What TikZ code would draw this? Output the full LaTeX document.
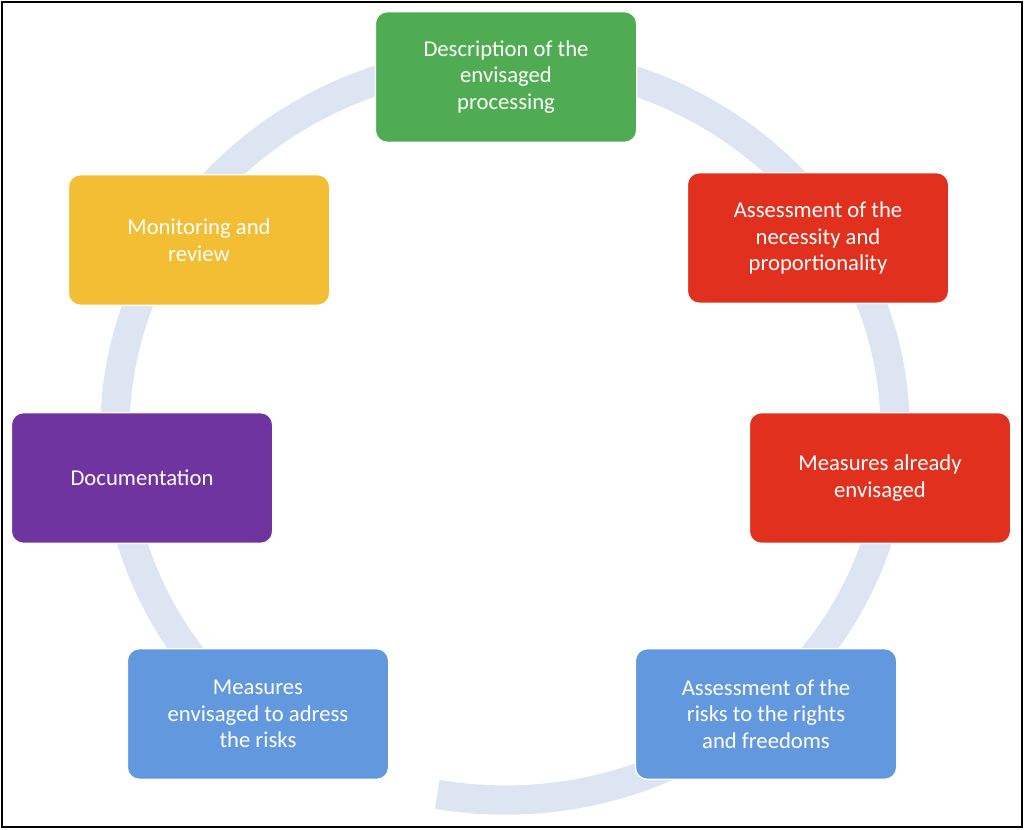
\documentclass[tikz,border=0pt]{standalone}
\usepackage{fontspec}
\setmainfont{Carlito}
\usetikzlibrary{arrows.meta}
\definecolor{cgreen}{RGB}{80,172,82}
\definecolor{cred}{RGB}{226,48,30}
\definecolor{cblue}{RGB}{98,152,222}
\definecolor{cpurple}{RGB}{112,52,160}
\definecolor{cyellow}{RGB}{244,190,52}
\definecolor{cring}{RGB}{222,229,242}
\tikzset{box/.style={draw=white,line width=1pt,rounded corners=9pt,text=white,align=center,font=\fontsize{17}{20}\selectfont,minimum width=196pt,minimum height=98pt,inner sep=2pt}}
\begin{document}
\begin{tikzpicture}[x=0.75pt,y=-0.75pt]
\useasboundingbox (0,0) rectangle (1024,829);
\draw[line width=1.2pt] (2,2) rectangle (1022,827);
\coordinate (c) at (505,430);
\draw[cring,line width=22pt,-{Triangle[width=44pt,length=26pt]}] ([shift={(100:390 and 370)}]c) arc[start angle=460,end angle=117,x radius=390,y radius=370];
\node[box,fill=cgreen] (g) at (506,77) {Description of the\\envisaged\\processing};
\node[box,fill=cred] (r1) at (818,238) {Assessment of the\\necessity and\\proportionality};
\node[box,fill=cred] (r2) at (880,478) {Measures already\\envisaged};
\node[box,fill=cblue] (b1) at (766,714) {Assessment of the\\risks to the rights\\and freedoms};
\node[box,fill=cblue] (b2) at (258,714) {Measures\\envisaged to adress\\the risks};
\node[box,fill=cpurple] (p) at (142,478) {Documentation};
\node[box,fill=cyellow] (y) at (199,240) {Monitoring and\\review};
\end{tikzpicture}
\end{document}
